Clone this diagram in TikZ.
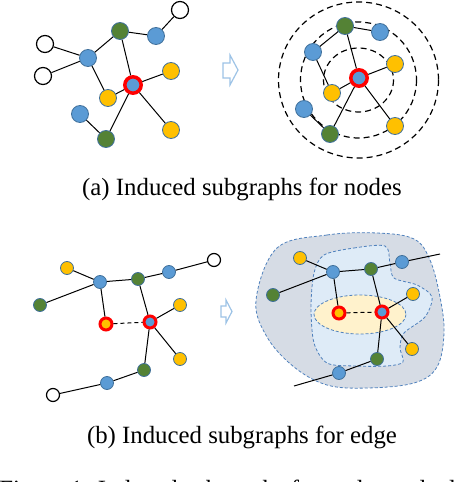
\documentclass[tikz,border=0pt]{standalone}
\usepackage{fontspec}
\setmainfont{Liberation Serif}
\newfontfamily\capfont{Liberation Serif}
\definecolor{NodeBlue}{RGB}{91,155,213}
\definecolor{NodeEdge}{RGB}{65,113,156}
\definecolor{NodeGreen}{RGB}{84,130,53}
\definecolor{NodeYellow}{RGB}{255,192,0}
\definecolor{ArrowBlue}{RGB}{157,195,230}
\definecolor{BlobGray}{RGB}{214,220,229}
\definecolor{BlobBlue}{RGB}{222,235,247}
\definecolor{BlobYellow}{RGB}{255,242,204}
\definecolor{BlobEdge}{RGB}{79,129,189}

\begin{document}
\begin{tikzpicture}[x=0.5pt, y=-0.5pt,
  vtx/.style={circle, inner sep=0pt, minimum size=8.5pt, line width=0.4pt},
  bv/.style={vtx, fill=NodeBlue, draw=NodeEdge},
  gv/.style={vtx, fill=NodeGreen, draw=NodeEdge},
  yv/.style={vtx, fill=NodeYellow, draw=NodeEdge},
  wv/.style={vtx, fill=white, draw=black, line width=0.6pt},
  sm/.style={minimum size=6.5pt},
  seed/.style={draw=red, line width=1.75pt, minimum size=8.2pt},
  seedsm/.style={draw=red, line width=1.5pt, minimum size=6pt},
  lnk/.style={black, line width=0.5pt},
  seedlnk/.style={lnk, dash pattern=on 2pt off 1.5pt},
  hop/.style={black, line width=0.6pt, dash pattern=on 3pt off 2pt},
  blob/.style={draw=BlobEdge, line width=0.4pt, dash pattern=on 1.5pt off 1pt},
  hollowarr/.style={draw=ArrowBlue, fill=white, line width=0.6pt},
  captxt/.style={font=\capfont\fontsize{12.4}{15}\selectfont, anchor=base, inner sep=0pt},
]
\useasboundingbox (0,0) rectangle (454,482);

% (a) original graph
\node[wv] (aw1) at (180,10)  {};
\node[gv] (ag1) at (120,31)  {};
\node[bv] (ab1) at (156,36)  {};
\node[wv] (aw2) at (45,44)   {};
\node[bv] (ab2) at (88,58)   {};
\node[wv] (aw3) at (43,76)   {};
\node[yv] (ay1) at (171,71)  {};
\node[bv, seed] (ac) at (133,85) {};
\node[yv] (ay2) at (108,98)  {};
\node[bv] (ab3) at (80,114)  {};
\node[gv] (ag2) at (106,139) {};
\node[yv] (ay3) at (171,130) {};

\draw[lnk] (aw1) -- (ab1);
\draw[lnk] (ag1) -- (ab1);
\draw[lnk] (ag1) -- (ab2);
\draw[lnk] (ag1) -- (ac);
\draw[lnk] (aw2) -- (ab2);
\draw[lnk] (aw3) -- (ab2);
\draw[lnk] (ab2) -- (ay2);
\draw[lnk] (ay2) -- (ac);
\draw[lnk] (ac)  -- (ay1);
\draw[lnk] (ac)  -- (ag2);
\draw[lnk] (ac)  -- (ay3);
\draw[lnk] (ab3) -- (ag2);

\draw[hollowarr] (223,63) -- (230,63) -- (230,55) -- (238,70) -- (230,85) -- (230,78) -- (223,78) -- cycle;

% (a) hops around the target node
\coordinate (hub) at (358.5,80);
\draw[hop] (hub) ellipse [x radius=35, y radius=32];
\draw[hop] (hub) circle [radius=58];
\draw[hop] (hub) ellipse [x radius=80, y radius=78];

\node[gv] (rg1) at (345,26)  {};
\node[bv] (rb1) at (380,32)  {};
\node[bv] (rb2) at (313,52)  {};
\node[yv] (ry1) at (395,64)  {};
\node[bv, seed] (rc) at (359,78) {};
\node[yv] (ry2) at (332,93)  {};
\node[bv] (rb3) at (304,109) {};
\node[gv] (rg2) at (330,134) {};
\node[yv] (ry3) at (395,126) {};

\draw[lnk] (rg1) -- (rb1);
\draw[lnk] (rg1) -- (rb2);
\draw[lnk] (rg1) -- (rc);
\draw[lnk] (rb2) -- (ry2);
\draw[lnk] (ry2) -- (rc);
\draw[lnk] (rc)  -- (ry1);
\draw[lnk] (rc)  -- (rg2);
\draw[lnk] (rc)  -- (ry3);
\draw[lnk] (rb3) -- (rg2);

\node[captxt] (capa) at (242,195) {(a) Induced subgraphs for nodes};

% (b) original graph
\node[yv, sm] (by1) at (67,268)  {};
\node[bv, sm] (bb1) at (100,282) {};
\node[gv, sm] (bg1) at (138,279) {};
\node[bv, sm] (bb2) at (169,272) {};
\node[wv, sm] (bw1) at (214,260) {};
\node[gv, sm] (bg2) at (40,305)  {};
\node[yv, sm] (by2) at (180,305) {};
\node[yv, seedsm] (bsy) at (106,324) {};
\node[bv, seedsm] (bsb) at (150,322) {};
\node[yv, sm] (by3) at (180,359) {};
\node[gv, sm] (bg3) at (144,370) {};
\node[bv, sm] (bb3) at (107,383) {};
\node[wv, sm] (bw2) at (53,395)  {};

\draw[lnk] (by1) -- (bb1);
\draw[lnk] (bg2) -- (bb1);
\draw[lnk] (bb1) -- (bg1);
\draw[lnk] (bg1) -- (bb2);
\draw[lnk] (bb2) -- (bw1);
\draw[lnk] (bb1) -- (bsy);
\draw[lnk] (bg1) -- (bsb);
\draw[seedlnk] (bsy) -- (bsb);
\draw[lnk] (bsb) -- (by2);
\draw[lnk] (bsb) -- (by3);
\draw[lnk] (bsb) -- (bg3);
\draw[lnk] (bg3) -- (bb3);
\draw[lnk] (bb3) -- (bw2);

\draw[hollowarr] (221,306) -- (226,306) -- (226,300) -- (232,311.5) -- (226,323) -- (226,317) -- (221,317) -- cycle;

% (b) nested neighbourhoods of the target edge
\draw[blob, fill=BlobGray] plot[smooth cycle, tension=0.6] coordinates {
  (277,248) (327,235) (377,233) (414,239) (430,260) (440,297) (444,333)
  (437,367) (414,383) (367,388) (327,385) (294,367) (267,337) (256,300)};
\draw[blob, fill=BlobBlue] plot[smooth cycle, tension=0.5] coordinates {
  (324,255) (354,248) (385,246) (390,263) (394,278) (417,285) (432,297)
  (425,317) (404,333) (400,348) (403,362) (387,366) (354,366) (327,363)
  (314,343) (311,307) (314,273)};
\draw[blob, fill=BlobYellow] (360,314.5) ellipse [x radius=46, y radius=19.5];

\coordinate (et) at (440,254);
\coordinate (es) at (294,386);
\node[yv, sm] (ey1) at (300,258) {};
\node[bv, sm] (eb1) at (333,272) {};
\node[gv, sm] (eg1) at (371,269) {};
\node[bv, sm] (eb2) at (402,262) {};
\node[gv, sm] (eg2) at (273,295) {};
\node[yv, sm] (ey2) at (413,294) {};
\node[yv, seedsm] (esy) at (339,313) {};
\node[bv, seedsm] (esb) at (382,312) {};
\node[yv, sm] (ey3) at (412,349) {};
\node[gv, sm] (eg3) at (377,359) {};
\node[bv, sm] (eb3) at (339,373) {};

\draw[lnk] (ey1) -- (eb1);
\draw[lnk] (eg2) -- (eb1);
\draw[lnk] (eb1) -- (eg1);
\draw[lnk] (eg1) -- (eb2);
\draw[lnk] (eb2) -- (et);
\draw[lnk] (eb1) -- (esy);
\draw[lnk] (eg1) -- (esb);
\draw[seedlnk] (esy) -- (esb);
\draw[lnk] (esb) -- (ey2);
\draw[lnk] (esb) -- (ey3);
\draw[lnk] (esb) -- (eg3);
\draw[lnk] (eg3) -- (eb3);
\draw[lnk] (eb3) -- (es);

\node[captxt] (capb) at (242,443) {(b) Induced subgraphs for edge};

\begin{scope}
  \clip (0,0) rectangle (454,482);
  \node[captxt, anchor=base west] (fig) at (-1,497) {Figure 1: Induced subgraphs for nodes and edge};
\end{scope}
\end{tikzpicture}
\end{document}
